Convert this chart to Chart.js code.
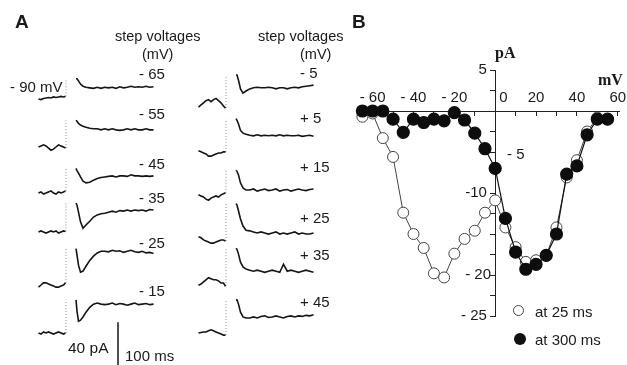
<!DOCTYPE html>
<html>
<head>
<meta charset="utf-8">
<script src="https://cdn.jsdelivr.net/npm/chart.js@4.4.1/dist/chart.umd.min.js"></script>
<style>
  body { margin: 0; background: #fff; }
  #wrap { position: relative; width: 627px; height: 365px; overflow: hidden;
          font-family: "Liberation Sans", Arial, sans-serif; color: #1a1a1a; }
  canvas { position: absolute; top: 0; }
  .t { position: absolute; line-height: 1; white-space: nowrap; }
  .serif { font-family: "Liberation Serif", "DejaVu Serif", serif; font-weight: bold; }
  .dot { position: absolute; border-radius: 50%; box-sizing: border-box; }
</style>
</head>
<body>
<div id="wrap">
  <canvas id="traces" width="350" height="365" style="left:0"></canvas>
  <canvas id="iv" width="287" height="365" style="left:340px"></canvas>

  <div class="t" style="left:15px;top:12px;font-size:19px;font-weight:bold">A</div>
  <div class="t" style="left:115px;top:29px;font-size:14.5px">step voltages</div>
  <div class="t" style="left:142px;top:47px;font-size:14.5px">(mV)</div>
  <div class="t" style="left:258px;top:29px;font-size:14.5px">step voltages</div>
  <div class="t" style="left:300px;top:47px;font-size:14.5px">(mV)</div>
  <div class="t" style="left:10px;top:79px;font-size:15px">- 90 mV</div>
  <div id="stepLabels"></div>
  <div class="t" style="left:68px;top:340px;font-size:15.5px">40 pA</div>
  <div class="t" style="left:125px;top:348px;font-size:15px">100 ms</div>

  <div class="t" style="left:352px;top:12px;font-size:19px;font-weight:bold">B</div>
  <div class="t serif" style="left:495px;top:45px;font-size:16px">pA</div>
  <div class="t serif" style="left:598px;top:72px;font-size:16px">mV</div>
  <div class="t" style="left:507px;top:146px;font-size:15px">- 5</div>

  <div class="dot" style="left:512.8px;top:305.2px;width:11px;height:11px;border:1px solid #444;background:#fff"></div>
  <div class="t" style="left:535px;top:303.6px;font-size:15px">at 25 ms</div>
  <div class="dot" style="left:514px;top:333.3px;width:12px;height:12px;background:#111"></div>
  <div class="t" style="left:535px;top:331.6px;font-size:15px">at 300 ms</div>
</div>

<script>
// ================= PANEL A DATA (pA, relative to holding level) =================
const leftSteps = [-65, -55, -45, -35, -25, -15];
const rightSteps = [-5, 5, 15, 25, 35, 45];
const preTimes = [-110, -100, -90, -80, -70, -60, -50, -40, -30, -20, -10, -2];
const postTimes = [40, 44, 50, 58, 68, 80, 95, 110, 125, 140, 155, 170, 185, 200, 215, 230, 245, 260, 275, 290, 305, 320, 335, 350];

const preCurrent = [
    [-1, -1.5, -0.5, 0, 0.5, 0, 1, 0.5, 1, 1.5, 1, 1.5],
    [0, 1, 2, 1, -1, -3, -2, 0, 2, 1, 0, -1],
    [0, 1, -1, 0, 1, 2, 0, -1, 1, 0, 1, 2],
    [0, 1, 0, -1, 0, 1, 0, 1, -1, 0, 1, 0.5],
    [-2, 0, 2, 2, 1, 0, -1, -2, -2, -1, 0, 2],
    [0, -1, 1, 0, 1, 0, -1, 0, 1, 0, -1, 0],
    [-1, 1, 3, 5, 6, 4, 6, 7, 5, 3, 0, -2],
    [3, 2, 1, 0, -2, -2, -1, 0, 1, 1, 2, 2],
    [2, 1, 0, -2, -3, -1, 0, 1, 0, 2, 3, 4],
    [4, 3, 1, 0, -1, -2, -2, -1, 0, 1, 1, 0],
    [-2, -1, 1, 3, 5, 4, 3, 3, 2, 0, 0, -3],
    [0, 0.5, 1, 1, 2, 3, 2, 1, 0, -1, -2, -2]
];

const postCurrent = [
    [18, 18, 16, 13, 11, 10, 9.5, 9, 10, 9, 10, 9.5, 10, 9, 10.5, 9.5, 10, 11, 10, 10.5, 10, 11, 10, 10.5],
    [25, 24, 22, 20.5, 19.5, 18.5, 17.5, 17, 17, 16, 17, 16, 17, 16, 15.5, 16, 17, 16, 17, 16, 16, 17, 16, 16],
    [23, 21, 18.5, 15, 11, 9.5, 10, 12, 13.5, 14.5, 15, 15.5, 16, 15, 16, 16, 15.5, 17, 16, 16, 15.5, 16, 15.5, 16],
    [27, 25, 18.5, 9.5, 3.5, 6.5, 10, 14, 16, 17, 17.5, 18.5, 19.5, 18.5, 20, 19.5, 20.5, 19.5, 20.5, 20, 20.5, 19.5, 21, 20.5],
    [34, 28, 18.5, 12, 13, 17.5, 23, 27, 30, 31.5, 31.5, 31, 32.5, 31.5, 32, 30.5, 31.5, 32.5, 31, 30.5, 31.5, 30, 30.5, 29.5],
    [31, 20.5, 11, 12, 15, 19.5, 24, 27, 28, 27, 26.5, 27, 28, 26.5, 27.5, 27, 26, 27, 28, 26.5, 27, 27.5, 26.5, 27],
    [29, 29, 24, 16, 12, 14, 16, 17, 17.5, 17, 17, 17.5, 17, 16, 17, 17, 16, 17, 17.5, 17, 18, 18.5, 19, 19.5],
    [33, 31.5, 28, 22, 19.5, 18.5, 17.5, 17, 18, 17, 17.5, 17, 17.5, 17, 18, 17, 17.5, 17, 17, 17.5, 16.5, 17, 17.5, 16.5],
    [25, 24, 20.5, 13, 8.5, 6.5, 6.5, 7.5, 5.5, 6.5, 7.5, 6, 6.5, 7.5, 5.5, 6.5, 7, 5.5, 6.5, 7.5, 6.5, 6, 7, 7.5],
    [35, 33.5, 28, 20.5, 14, 10, 9.5, 8.5, 7.5, 8.5, 7.5, 6.5, 7.5, 8.5, 6.5, 7.5, 6.5, 7.5, 8.5, 6.5, 7.5, 6.5, 6.5, 7.5],
    [32.5, 31.5, 27, 19.5, 15, 13, 12, 11, 12, 11, 10, 11, 12, 11, 10, 17.5, 11, 12, 11, 10, 11, 12, 11, 10],
    [31, 31, 27, 19.5, 15, 14, 14, 15, 14, 15.5, 16, 14.5, 15, 16, 15, 14, 15.5, 16, 15, 16, 15.5, 16.5, 16, 17]
];

const scaleBarPA = 40;

// ================= PANEL B DATA =================
const stepMV = [-65, -60, -55, -50, -45, -40, -35, -30, -25, -20, -15, -10, -5, 0, 5, 10, 15, 20, 25, 30, 35, 40, 45, 50, 55];
const at25ms = [-0.7, -0.3, -3.3, -5.6, -12.4, -15.0, -16.7, -19.8, -20.3, -17.4, -15.6, -14.6, -12.4, -10.9, -14.2, -16.6, -18.4, -18.2, -17.6, -14.2, -8.1, -6.0, -2.5, -0.8];
const at300ms = [0, 0, 0, -1.0, -2.6, -1.0, -1.4, -1.0, -1.2, -0.2, -1.1, -2.7, -4.6, -7.0, -13.1, -17.2, -19.3, -18.7, -17.6, -15.0, -7.7, -6.7, -2.9, -1.0, -1.0];
const yTickText = { "5": "5  ", "-10": "-10  ", "-20": "- 20 ", "-25": "- 25  " };
const xTickText = { "-60": "- 60", "-40": "- 40", "-20": "- 20", "0": "    0", "20": "20", "40": "40", "60": "60" };

// ================= PANEL A LAYOUT =================
const PX_PER_MS = 0.25;
const PX_PER_PA = 1.07;
const COL_SHIFT_MS = 640;
const rowBasePx = [98, 147, 193, 232, 285, 333, 106, 154, 197, 241, 283, 333];
const labelY = [73, 113, 163, 197, 242, 290, 72, 117, 166, 217, 254, 301];

const steps = leftSteps.concat(rightSteps);
const traceSets = [];
const solid = { borderColor: "#151515", borderWidth: 1.6, pointRadius: 0, showLine: true, tension: 0 };
const dotted = { borderColor: "#8a8a8a", borderWidth: 1, borderDash: [1, 2], pointRadius: 0, showLine: true };

let labelHtml = "";
steps.forEach((v, i) => {
    const col = i < 6 ? 0 : 1;
    const shift = col * COL_SHIFT_MS;
    const base = -rowBasePx[i] / PX_PER_PA;
    traceSets.push(Object.assign({ data: preTimes.map((t, k) => ({ x: t + shift, y: base + preCurrent[i][k] })) }, solid));
    traceSets.push(Object.assign({ data: [{ x: shift, y: base + preCurrent[i][11] }, { x: shift, y: base + postCurrent[i][0] }] }, dotted));
    traceSets.push(Object.assign({ data: postTimes.map((t, k) => ({ x: t + shift, y: base + postCurrent[i][k] })) }, solid));

    const txt = v < 0 ? "- " + Math.abs(v) : "+ " + v;
    labelHtml += `<div class="t" style="left:${col ? 300 : 139}px;top:${labelY[i] - 7.4}px;font-size:15px">${txt}</div>`;
});
document.getElementById("stepLabels").innerHTML = labelHtml;

// scale bar (40 pA)
const yMinA = -365 / PX_PER_PA;
traceSets.push(Object.assign({ data: [{ x: 208, y: yMinA }, { x: 208, y: yMinA + scaleBarPA }] }, solid, { borderWidth: 1.5 }));

new Chart(document.getElementById("traces"), {
    type: "scatter",
    data: { datasets: traceSets },
    options: {
        responsive: false,
        animation: false,
        devicePixelRatio: 1,
        layout: { padding: 0 },
        plugins: { legend: { display: false }, tooltip: { enabled: false } },
        scales: {
            x: { type: "linear", display: false, min: -66 / PX_PER_MS, max: (350 - 66) / PX_PER_MS },
            y: { type: "linear", display: false, min: yMinA, max: 0 }
        }
    }
});

// ================= PANEL B CHART =================
const axisFont = { family: "'Liberation Sans', Arial, sans-serif", size: 15 };

new Chart(document.getElementById("iv"), {
    type: "scatter",
    data: {
        datasets: [
            {
                label: "at 300 ms",
                data: stepMV.map((x, i) => ({ x: x, y: at300ms[i] })),
                showLine: true,
                borderColor: "#111",
                borderWidth: 1.2,
                pointRadius: 6,
                pointBackgroundColor: "#0d0d0d",
                pointBorderColor: "#0d0d0d",
                clip: false
            },
            {
                label: "at 25 ms",
                data: at25ms.map((y, i) => ({ x: stepMV[i], y: y })),
                showLine: true,
                borderColor: "#444",
                borderWidth: 1,
                pointRadius: 5.5,
                pointBorderWidth: 1,
                pointBackgroundColor: "#fff",
                pointBorderColor: "#444",
                clip: false
            }
        ]
    },
    options: {
        responsive: false,
        animation: false,
        devicePixelRatio: 1,
        layout: { padding: { left: 17.3, right: 2.4, top: 70, bottom: 49 } },
        plugins: { legend: { display: false }, tooltip: { enabled: false } },
        scales: {
            x: {
                type: "linear",
                min: -67.5,
                max: 61,
                position: { y: 0 },
                grid: { drawOnChartArea: false, tickLength: 4, color: "#222" },
                border: { color: "#222", width: 1 },
                ticks: {
                    stepSize: 10,
                    includeBounds: false,
                    maxRotation: 0,
                    autoSkip: false,
                    padding: -26,
                    color: "#1a1a1a",
                    font: axisFont,
                    callback: v => xTickText[v] || ""
                },
                afterFit: s => { s.height = 0; }
            },
            y: {
                type: "linear",
                min: -25,
                max: 5,
                position: { x: 0 },
                grid: { drawOnChartArea: false, tickLength: 5, color: "#222" },
                border: { color: "#222", width: 1 },
                ticks: {
                    stepSize: 2.5,
                    includeBounds: false,
                    autoSkip: false,
                    color: "#1a1a1a",
                    font: axisFont,
                    callback: v => yTickText[v] || ""
                },
                afterFit: s => { s.width = 0; }
            }
        }
    }
});
</script>
</body>
</html>
